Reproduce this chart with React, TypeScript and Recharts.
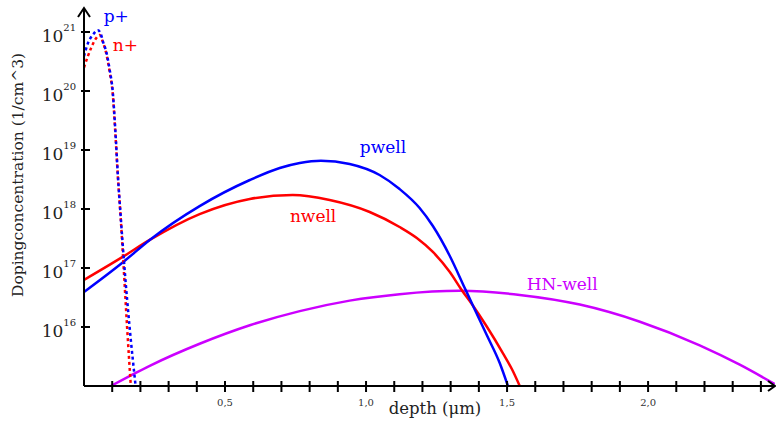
import React from 'react'
import { LineChart, Line, XAxis, YAxis, ReferenceDot } from 'recharts'

// depth in µm, doping concentration in 1/cm^3
const pPlusDepth = [0, 0.013, 0.031, 0.049, 0.059, 0.066, 0.08, 0.091, 0.102, 0.111, 0.12, 0.13, 0.144, 0.162, 0.183]
const pPlusConc = [3.9e20, 6.3e20, 8.9e20, 1.07e21, 9.5e20, 7.2e20, 4.4e20, 2.3e20, 9.6e19, 2.2e19, 3.8e18, 7.6e17, 9.5e16, 9.6e15, 1e15]

const nPlusDepth = [0, 0.013, 0.027, 0.041, 0.056, 0.066, 0.08, 0.091, 0.102, 0.111, 0.12, 0.13, 0.141, 0.153, 0.166]
const nPlusConc = [2.5e20, 3.8e20, 5.6e20, 7.6e20, 8.9e20, 7e20, 4.1e20, 2.1e20, 8.9e19, 2.0e19, 3.6e18, 7.2e17, 9.5e16, 9.6e15, 1e15]

const pwellDepth = [0, 0.137, 0.233, 0.41, 0.588, 0.694, 0.765, 0.84, 0.942, 1.048, 1.119, 1.19, 1.237, 1.297, 1.35, 1.378, 1.428, 1.474, 1.503]
const pwellConc = [3.92e16, 1.24e17, 2.99e17, 1.12e18, 3.1e18, 4.96e18, 6.03e18, 6.59e18, 5.8e18, 3.77e18, 2.18e18, 1.04e18, 5.15e17, 1.6e17, 4.58e16, 2.36e16, 7.3e15, 2.45e15, 1e15]

const nwellDepth = [0, 0.137, 0.233, 0.41, 0.588, 0.74, 0.871, 1.013, 1.119, 1.18, 1.237, 1.297, 1.339, 1.375, 1.428, 1.485, 1.517, 1.545]
const nwellConc = [6.27e16, 1.54e17, 2.99e17, 8.2e17, 1.48e18, 1.73e18, 1.42e18, 8.9e17, 4.95e17, 3.22e17, 1.87e17, 8.55e16, 4.24e16, 2.45e16, 1.02e16, 3.62e15, 1.94e15, 1e15]

const hnDepth = [0.095, 0.233, 0.41, 0.588, 0.765, 0.942, 1.119, 1.332, 1.545, 1.758, 1.971, 2.183, 2.325, 2.449]
const hnConc = [1e15, 2.2e15, 5.2e15, 1.07e16, 1.86e16, 2.8e16, 3.6e16, 4.1e16, 3.5e16, 2.4e16, 1.23e16, 4.9e15, 2.3e15, 1.08e15]

const xTicks = [0.1, 0.2, 0.3, 0.4, 0.5, 0.6, 0.7, 0.8, 0.9, 1.0, 1.1, 1.2, 1.3, 1.4, 1.5, 1.6, 1.7, 1.8, 1.9, 2.0, 2.1, 2.2, 2.3, 2.4]
const xTickLabels = [0.5, 1.0, 1.5, 2.0]
const yTicks = [1e16, 1e17, 1e18, 1e19, 1e20, 1e21]

const X_MAX = 2.45
const Y_MIN = 1e15
const Y_MAX = 2.55e21

const FONT = '"DejaVu Serif", serif'
const BLUE = '#0000ff'
const RED = '#ff0000'
const VIOLET = '#cc00ff'

const zip = (xs: number[], ys: number[]) => xs.map((x, i) => ({ x, y: ys[i] }))

const curveLabels = [
  { text: 'p+', x: 0.07, y: 1.48e21, color: BLUE },
  { text: 'n+', x: 0.102, y: 4.8e20, color: RED },
  { text: 'pwell', x: 0.978, y: 8.9e18, color: BLUE },
  { text: 'nwell', x: 0.73, y: 6e17, color: RED },
  { text: 'HN-well', x: 1.57, y: 4.2e16, color: VIOLET },
]

function XTick(props: any) {
  const { x, y, payload } = props
  const v = payload.value
  const show = xTickLabels.includes(v)
  return (
    <g>
      <line x1={x} x2={x} y1={y - 5} y2={y + 6} stroke="#000" strokeWidth={2} />
      {show && (
        <text x={x} y={y + 20} textAnchor="middle" fontSize={10} fill="#333" fontFamily={FONT}>
          {v.toFixed(1).replace('.', ',')}
        </text>
      )}
    </g>
  )
}

function YTick(props: any) {
  const { x, y, payload } = props
  const exp = Math.round(Math.log10(payload.value))
  return (
    <g>
      <line x1={x - 3} x2={x + 6} y1={y} y2={y} stroke="#000" strokeWidth={2} />
      <text x={x - 8} y={y + 10} textAnchor="end" fontSize={17} fill="#222" fontFamily={FONT}>
        <tspan>10</tspan>
        <tspan dy={-11} fontSize={10}>{exp}</tspan>
      </text>
    </g>
  )
}

export default function App() {
  return (
    <div style={{ position: 'absolute', left: 0, top: 0, background: '#fff' }}>
      <LineChart width={776} height={423} margin={{ top: 8, right: 1, bottom: 0, left: 0 }}>
        <XAxis
          type="number"
          dataKey="x"
          domain={[0, X_MAX]}
          ticks={xTicks}
          tick={<XTick />}
          tickLine={false}
          tickSize={0}
          tickMargin={0}
          height={37}
          axisLine={{ stroke: '#000', strokeWidth: 2 }}
          interval={0}
          allowDataOverflow
          label={{
            content: () => (
              <text x={435} y={414} textAnchor="middle" fontSize={16.5} fill="#222" fontFamily={FONT}>
                depth (μm)
              </text>
            ),
          }}
        />
        <YAxis
          type="number"
          dataKey="y"
          scale="log"
          domain={[Y_MIN, Y_MAX]}
          ticks={yTicks}
          tick={<YTick />}
          tickLine={false}
          tickSize={0}
          tickMargin={0}
          width={84}
          axisLine={{ stroke: '#000', strokeWidth: 2 }}
          interval={0}
          allowDataOverflow
          label={{
            content: () => (
              <text
                x={23}
                y={175}
                transform="rotate(-90 23 175)"
                textAnchor="middle"
                fontSize={15.5}
                fill="#222"
                fontFamily={FONT}
              >
                Dopingconcentration (1/cm^3)
              </text>
            ),
          }}
        />

        <Line data={zip(hnDepth, hnConc)} dataKey="y" type="monotone" stroke={VIOLET} strokeWidth={2.5} dot={false} isAnimationActive={false} />
        <Line data={zip(nwellDepth, nwellConc)} dataKey="y" type="monotone" stroke={RED} strokeWidth={2.5} dot={false} isAnimationActive={false} />
        <Line data={zip(pwellDepth, pwellConc)} dataKey="y" type="monotone" stroke={BLUE} strokeWidth={2.5} dot={false} isAnimationActive={false} />
        <Line data={zip(nPlusDepth, nPlusConc)} dataKey="y" type="monotone" stroke={RED} strokeWidth={2.5} strokeDasharray="3 3" dot={false} isAnimationActive={false} />
        <Line data={zip(pPlusDepth, pPlusConc)} dataKey="y" type="monotone" stroke={BLUE} strokeWidth={2.5} strokeDasharray="3 3" dot={false} isAnimationActive={false} />

        {curveLabels.map((l) => (
          <ReferenceDot
            key={l.text}
            x={l.x}
            y={l.y}
            ifOverflow="visible"
            shape={(p: any) => (
              <text x={p.cx} y={p.cy} fontSize={17} fill={l.color} fontFamily={FONT}>
                {l.text}
              </text>
            )}
          />
        ))}

        {/* axis arrow heads */}
        <ReferenceDot
          x={0}
          y={Y_MAX}
          ifOverflow="visible"
          shape={(p: any) => (
            <path d={`M${p.cx - 6},${p.cy + 9} L${p.cx},${p.cy} L${p.cx + 6},${p.cy + 9}`} fill="none" stroke="#000" strokeWidth={2} />
          )}
        />
        <ReferenceDot
          x={X_MAX}
          y={Y_MIN}
          ifOverflow="visible"
          shape={(p: any) => (
            <path d={`M${p.cx - 7},${p.cy - 5} L${p.cx},${p.cy} L${p.cx - 7},${p.cy + 5}`} fill="none" stroke="#000" strokeWidth={2} />
          )}
        />
      </LineChart>
    </div>
  )
}
